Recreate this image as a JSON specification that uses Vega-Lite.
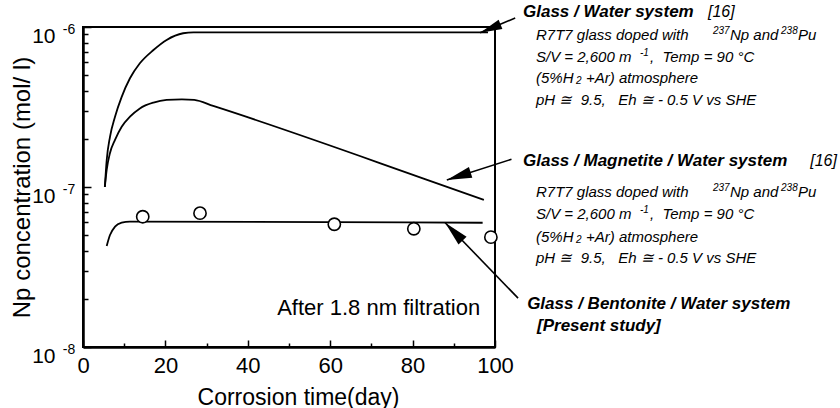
{
  "$schema": "https://vega.github.io/schema/vega-lite/v6.json",
  "width": 412,
  "height": 320,
  "autosize": "none",
  "padding": {"left": 83, "top": 27, "right": 345, "bottom": 61},
  "background": "white",
  "config": {
    "font": "Liberation Sans",
    "view": {"stroke": "black", "strokeWidth": 2},
    "axis": {"grid": false, "labelColor": "black", "titleColor": "black", "titleFontWeight": "normal", "domainColor": "black", "domainWidth": 2.5, "tickColor": "black", "tickWidth": 1.5}
  },
  "datasets": {
    "curves": [
      {"series": "water", "day": 5.3, "conc": 1.0e-7},
      {"series": "water", "day": 5.75, "conc": 1.47e-7},
      {"series": "water", "day": 6.55, "conc": 2.06e-7},
      {"series": "water", "day": 7.77, "conc": 2.75e-7},
      {"series": "water", "day": 9.39, "conc": 3.66e-7},
      {"series": "water", "day": 11.4, "conc": 4.78e-7},
      {"series": "water", "day": 13.8, "conc": 5.93e-7},
      {"series": "water", "day": 17.1, "conc": 7.18e-7},
      {"series": "water", "day": 20.3, "conc": 8.3e-7},
      {"series": "water", "day": 24.3, "conc": 9.14e-7},
      {"series": "water", "day": 26.8, "conc": 9.26e-7},
      {"series": "water", "day": 98.3, "conc": 9.26e-7},
      {"series": "magnetite", "day": 5.3, "conc": 1.0e-7},
      {"series": "magnetite", "day": 5.75, "conc": 1.28e-7},
      {"series": "magnetite", "day": 6.55, "conc": 1.63e-7},
      {"series": "magnetite", "day": 7.77, "conc": 1.97e-7},
      {"series": "magnetite", "day": 9.39, "conc": 2.38e-7},
      {"series": "magnetite", "day": 11.4, "conc": 2.75e-7},
      {"series": "magnetite", "day": 13.8, "conc": 3.10e-7},
      {"series": "magnetite", "day": 17.1, "conc": 3.37e-7},
      {"series": "magnetite", "day": 20.3, "conc": 3.50e-7},
      {"series": "magnetite", "day": 24.0, "conc": 3.53e-7},
      {"series": "magnetite", "day": 27.0, "conc": 3.50e-7},
      {"series": "magnetite", "day": 31.6, "conc": 3.21e-7},
      {"series": "magnetite", "day": 81.8, "conc": 1.15e-7},
      {"series": "magnetite", "day": 97.3, "conc": 8.3e-8},
      {"series": "bentonite", "day": 5.75, "conc": 4.28e-8},
      {"series": "bentonite", "day": 6.55, "conc": 5.01e-8},
      {"series": "bentonite", "day": 7.77, "conc": 5.65e-8},
      {"series": "bentonite", "day": 9.39, "conc": 5.98e-8},
      {"series": "bentonite", "day": 11.4, "conc": 6.08e-8},
      {"series": "bentonite", "day": 97.0, "conc": 5.98e-8}
    ],
    "measured": [
      {"day": 14.5, "conc": 6.52e-8},
      {"day": 28.4, "conc": 6.86e-8},
      {"day": 61.0, "conc": 5.85e-8},
      {"day": 80.3, "conc": 5.48e-8},
      {"day": 99.0, "conc": 4.86e-8}
    ],
    "exponents": [{"v": 1e-6, "e": "-6"}, {"v": 1e-7, "e": "-7"}, {"v": 1e-8, "e": "-8"}],
    "headers": [
      {"x": 106.8, "y": 1.155e-6, "t": "Glass / Water system"},
      {"x": 106.8, "y": 1.352e-7, "t": "Glass / Magnetite / Water system"},
      {"x": 107.8, "y": 1.728e-8, "t": "Glass / Bentonite / Water system"},
      {"x": 110.2, "y": 1.259e-8, "t": "[Present study]"}
    ],
    "refs": [
      {"x": 151.7, "y": 1.155e-6, "t": "[16]"},
      {"x": 176.5, "y": 1.352e-7, "t": "[16]"}
    ],
    "details": [
      {"x": 109.95, "y": 8.29e-7, "t": "R7T7 glass doped with"},
      {"x": 157.04, "y": 8.29e-7, "t": "Np and"},
      {"x": 173.54, "y": 8.29e-7, "t": "Pu"},
      {"x": 109.95, "y": 6.04e-7, "t": "S/V = 2,600 m"},
      {"x": 137.62, "y": 6.04e-7, "t": ", \u00a0Temp = 90 °C"},
      {"x": 109.95, "y": 4.47e-7, "t": "(5%H"},
      {"x": 122.09, "y": 4.47e-7, "t": "+Ar) atmosphere"},
      {"x": 109.95, "y": 3.25e-7, "t": "pH ≅ \u00a09.5, \u00a0\u00a0Eh ≅ - 0.5 V vs SHE"},
      {"x": 109.95, "y": 8.66e-8, "t": "R7T7 glass doped with"},
      {"x": 157.04, "y": 8.66e-8, "t": "Np and"},
      {"x": 173.54, "y": 8.66e-8, "t": "Pu"},
      {"x": 109.95, "y": 6.31e-8, "t": "S/V = 2,600 m"},
      {"x": 137.62, "y": 6.31e-8, "t": ", \u00a0Temp = 90 °C"},
      {"x": 109.95, "y": 4.53e-8, "t": "(5%H"},
      {"x": 122.09, "y": 4.53e-8, "t": "+Ar) atmosphere"},
      {"x": 109.95, "y": 3.35e-8, "t": "pH ≅ \u00a09.5, \u00a0\u00a0Eh ≅ - 0.5 V vs SHE"}
    ],
    "supers": [
      {"x": 152.91, "y": 8.29e-7, "t": "237"},
      {"x": 169.42, "y": 8.29e-7, "t": "238"},
      {"x": 135.19, "y": 6.04e-7, "t": "-1"},
      {"x": 152.91, "y": 8.66e-8, "t": "237"},
      {"x": 169.42, "y": 8.66e-8, "t": "238"},
      {"x": 135.19, "y": 6.31e-8, "t": "-1"}
    ],
    "subs": [
      {"x": 119.66, "y": 4.47e-7, "t": "2"},
      {"x": 119.66, "y": 4.53e-8, "t": "2"}
    ],
    "note": [{"x": 96.4, "y": 1.585e-8, "t": "After 1.8 nm filtration"}],
    "arrows": [
      {"x": 104.9, "y": 1.138e-6, "x2": 96.4, "y2": 9.21e-7},
      {"x": 104.0, "y": 1.49e-7, "x2": 88.3, "y2": 1.106e-7},
      {"x": 105.6, "y": 2.02e-8, "x2": 87.9, "y2": 5.98e-8}
    ],
    "tip1": [{"x": 96.4, "y": 9.21e-7}],
    "tip2": [{"x": 88.3, "y": 1.106e-7}],
    "tip3": [{"x": 87.9, "y": 5.98e-8}]
  },
  "encoding": {
    "x": {"type": "quantitative", "scale": {"domain": [0, 100]}},
    "y": {"type": "quantitative", "scale": {"type": "log", "domain": [1e-8, 1e-6]}}
  },
  "layer": [
    {
      "data": {"name": "curves"},
      "mark": {"type": "line", "interpolate": "monotone", "color": "black", "strokeWidth": 1.8},
      "encoding": {
        "x": {"field": "day", "type": "quantitative", "axis": {
          "title": "Corrosion time(day)",
          "values": [0, 10, 20, 30, 40, 50, 60, 70, 80, 90, 100],
          "labelExpr": "datum.value % 20 === 0 ? datum.label : ''",
          "ticks": true,
          "tickSize": {"condition": {"test": "datum.value % 20 === 0", "value": -7}, "value": -4},
          "labelFontSize": 22, "labelPadding": 15, "labelFlush": false,
          "titleFontSize": 23, "titlePadding": 10, "titleX": 215}},
        "y": {"field": "conc", "type": "quantitative", "axis": {
          "title": "Np concentration (mol/ l)",
          "values": [1e-8, 2e-8, 3e-8, 4e-8, 5e-8, 6e-8, 7e-8, 8e-8, 9e-8, 1e-7, 2e-7, 3e-7, 4e-7, 5e-7, 6e-7, 7e-7, 8e-7, 9e-7, 1e-6],
          "labelExpr": "abs(log(datum.value) / LN10 - round(log(datum.value) / LN10)) < 0.001 ? '10' : ''",
          "ticks": true,
          "tickSize": {"condition": {"test": "abs(log(datum.value) / LN10 - round(log(datum.value) / LN10)) < 0.001", "value": -8}, "value": -5},
          "labelFontSize": 21, "labelPadding": 36, "labelBaseline": "alphabetic", "labelOffset": 15,
          "titleFontSize": 24, "titlePadding": -3}},
        "detail": {"field": "series", "type": "nominal"}
      }
    },
    {
      "data": {"name": "measured"},
      "mark": {"type": "point", "shape": "circle", "size": 150, "filled": true, "fill": "white", "stroke": "black", "strokeWidth": 1.6, "opacity": 1},
      "encoding": {"x": {"field": "day"}, "y": {"field": "conc"}}
    },
    {
      "data": {"name": "exponents"},
      "mark": {"type": "text", "align": "right", "baseline": "alphabetic", "fontSize": 14, "dy": 7, "color": "black"},
      "encoding": {"y": {"field": "v"}, "x": {"datum": -1.9}, "text": {"field": "e", "type": "nominal"}}
    },
    {
      "data": {"name": "note"},
      "mark": {"type": "text", "align": "right", "baseline": "alphabetic", "fontSize": 22, "color": "black"},
      "encoding": {"x": {"field": "x"}, "y": {"field": "y"}, "text": {"field": "t", "type": "nominal"}}
    },
    {
      "data": {"name": "headers"},
      "mark": {"type": "text", "align": "left", "baseline": "alphabetic", "fontSize": 17, "fontWeight": "bold", "fontStyle": "italic", "color": "black"},
      "encoding": {"x": {"field": "x"}, "y": {"field": "y"}, "text": {"field": "t", "type": "nominal"}}
    },
    {
      "data": {"name": "refs"},
      "mark": {"type": "text", "align": "left", "baseline": "alphabetic", "fontSize": 16, "fontStyle": "italic", "color": "black"},
      "encoding": {"x": {"field": "x"}, "y": {"field": "y"}, "text": {"field": "t", "type": "nominal"}}
    },
    {
      "data": {"name": "details"},
      "mark": {"type": "text", "align": "left", "baseline": "alphabetic", "fontSize": 15, "fontStyle": "italic", "color": "black"},
      "encoding": {"x": {"field": "x"}, "y": {"field": "y"}, "text": {"field": "t", "type": "nominal"}}
    },
    {
      "data": {"name": "supers"},
      "mark": {"type": "text", "align": "left", "baseline": "alphabetic", "fontSize": 10, "fontStyle": "italic", "dy": -6, "color": "black"},
      "encoding": {"x": {"field": "x"}, "y": {"field": "y"}, "text": {"field": "t", "type": "nominal"}}
    },
    {
      "data": {"name": "subs"},
      "mark": {"type": "text", "align": "left", "baseline": "alphabetic", "fontSize": 10, "fontStyle": "italic", "dy": 1, "color": "black"},
      "encoding": {"x": {"field": "x"}, "y": {"field": "y"}, "text": {"field": "t", "type": "nominal"}}
    },
    {
      "data": {"name": "arrows"},
      "mark": {"type": "rule", "color": "black", "strokeWidth": 1.6},
      "encoding": {"x": {"field": "x"}, "y": {"field": "y"}, "x2": {"field": "x2"}, "y2": {"field": "y2"}}
    },
    {
      "data": {"name": "tip1"},
      "mark": {"type": "point", "shape": "M0,0L-2,-0.45L-2,0.45Z", "size": 484, "angle": 157.6, "filled": true, "color": "black", "opacity": 1},
      "encoding": {"x": {"field": "x"}, "y": {"field": "y"}}
    },
    {
      "data": {"name": "tip2"},
      "mark": {"type": "point", "shape": "M0,0L-2,-0.45L-2,0.45Z", "size": 625, "angle": 162.3, "filled": true, "color": "black", "opacity": 1},
      "encoding": {"x": {"field": "x"}, "y": {"field": "y"}}
    },
    {
      "data": {"name": "tip3"},
      "mark": {"type": "point", "shape": "M0,0L-2,-0.45L-2,0.45Z", "size": 625, "angle": 225.9, "filled": true, "color": "black", "opacity": 1},
      "encoding": {"x": {"field": "x"}, "y": {"field": "y"}}
    }
  ]
}
